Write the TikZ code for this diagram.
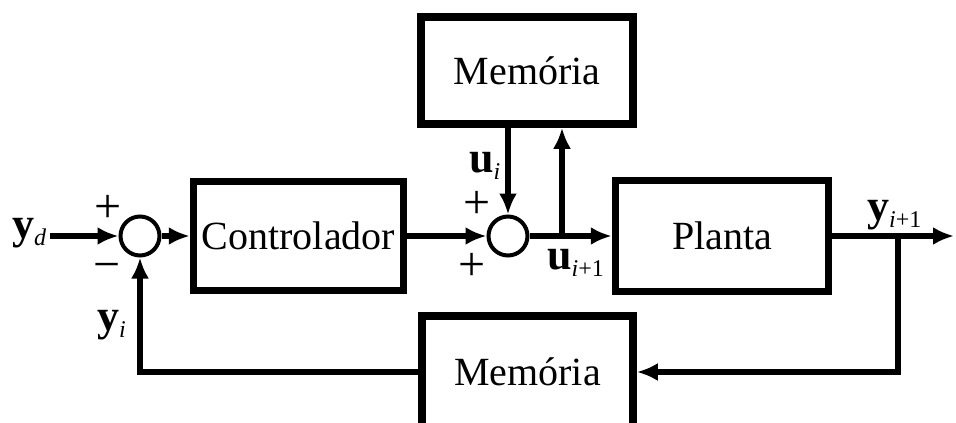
\documentclass[tikz,border=0pt]{standalone}
\usepackage{fontspec}
\setmainfont{Liberation Serif}
\usepackage{tikz}
\usetikzlibrary{arrows.meta}

% bold signal with a small subscript
\newcommand{\sigl}[2]{\textbf{#1}\raisebox{-7pt}{\fontsize{24}{24}\selectfont #2}}

\begin{document}
\begin{tikzpicture}[x=1pt, y=-1pt]
        \tikzset{block/.style = {draw, line width=7.5pt, inner sep=0pt, font=\fontsize{40}{48}\selectfont}}
        \tikzset{sum/.style = {circle, draw, line width=4pt, minimum size=39pt, inner sep=0pt}}
        \tikzset{edge/.style = {-{Latex[length=21pt,width=18pt]}, line width=6pt}}
        \tikzset{sign/.style = {font=\fontsize{48}{56}\selectfont, inner sep=0pt}}
        \tikzset{signal/.style = {font=\fontsize{44}{50}\selectfont, inner sep=0pt, anchor=base west}}

        \clip (0,0) rectangle (956,423);
        \useasboundingbox (0,0) rectangle (956,423);

        % blocks
        \node[block, minimum width=210pt, minimum height=109pt] (ctrl) at (298.5, 236) {Controlador};
        \node[block, minimum width=213pt, minimum height=111pt] (plant) at (722, 236) {Planta};
        \node[block, minimum width=212pt, minimum height=107pt] (memtop) at (527, 70.5) {Memória};
        \node[block, minimum width=211pt, minimum height=112pt] (membot) at (527.5, 372) {Memória};

        % summing junctions
        \node[sum] (sum1) at (140, 236) {};
        \node[sum] (sum2) at (508, 236) {};
        \node[sign] (p1) at (108, 209) {+};
        \node[sign] (m1) at (107, 272) {−};
        \node[sign] (p2) at (477, 205) {+};
        \node[sign] (p3) at (472, 267) {+};

        % forward path
        \coordinate (ref) at (50, 236);
        \coordinate (split) at (562, 236);
        \coordinate (tap) at (898, 236);
        \coordinate (out) at (954, 236);
        \draw[edge] (ref) -- (sum1);
        \draw[edge] (sum1) -- (ctrl);
        \draw[edge] (ctrl) -- (sum2);
        \draw[edge] (sum2) -- (plant);
        \draw[edge] (plant) -- (out);

        % memory of the input
        \draw[edge] (memtop.south -| sum2) -- (sum2);
        \draw[edge] (split) -- (split |- memtop.south);

        % memory of the output
        \draw[edge] (tap) |- (membot);
        \draw[edge] (membot) -| (sum1);

        % signals
        \node[signal] (yd) at (12, 238) {\sigl{y}{\itshape d}};
        \node[signal] (yi) at (97, 330) {\sigl{y}{\itshape i}};
        \node[signal] (ui) at (469, 172) {\sigl{u}{\itshape i}};
        \node[signal] (unext) at (547, 269) {\sigl{u}{\itshape i\upshape +1}};
        \node[signal] (ynext) at (867, 220) {\sigl{y}{\itshape i\upshape +1}};

        \end{tikzpicture}
\end{document}
